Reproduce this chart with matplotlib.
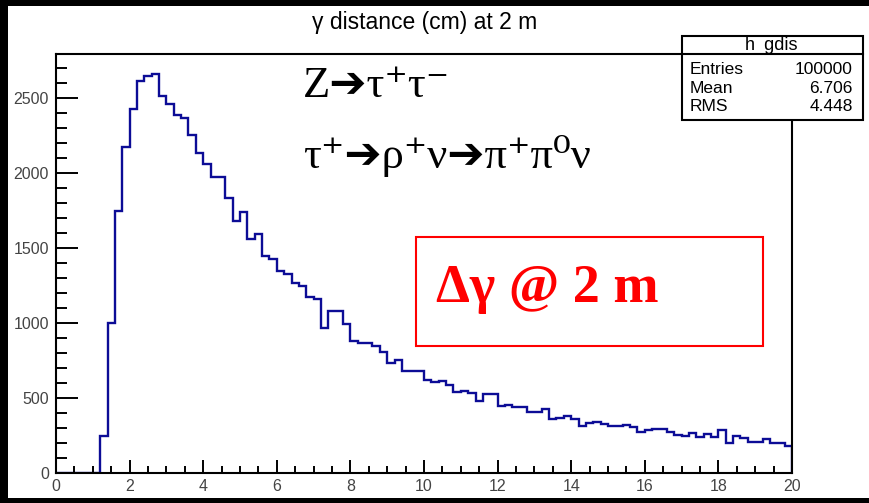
import numpy as np
import matplotlib
matplotlib.use("Agg")
import matplotlib.pyplot as plt
from matplotlib.patches import Rectangle
from matplotlib.lines import Line2D
from matplotlib.ticker import MultipleLocator

# h_gdis: photon distance at 2 m, 100 bins of 0.2 cm from 0 to 20
bin_lo, bin_hi, n_bins = 0.0, 20.0, 100
counts = [
    0, 0, 0, 0, 0, 0,
    250, 1000, 1748, 2173, 2427, 2617, 2645, 2663, 2516, 2461,
    2389, 2367, 2256, 2133, 2060, 1977, 1977, 1833, 1681, 1739,
    1559, 1592, 1447, 1427, 1350, 1327, 1269, 1247, 1171, 1158,
    964, 1082, 1082, 991, 882, 864, 864, 849, 808, 735,
    753, 679, 679, 679, 620, 608, 615, 586, 541, 546,
    534, 481, 526, 526, 446, 452, 441, 441, 408, 408,
    426, 359, 370, 379, 360, 314, 332, 343, 327, 314,
    314, 321, 308, 273, 288, 296, 296, 274, 255, 248,
    265, 240, 263, 240, 284, 203, 250, 232, 210, 210,
    228, 202, 202, 180,
]
stats_names = ["Entries", "Mean", "RMS"]
stats_vals = ["100000", "6.706", "4.448"]

W, H = 869, 503
fig = plt.figure(figsize=(W / 100, H / 100), dpi=100, facecolor="black")


def fx(x):
    return x / W


def fy(y):
    return 1 - y / H


# white page inside the black border
fig.patches.append(Rectangle((fx(8), fy(498)), 1 - fx(8), (498 - 6) / H,
                             transform=fig.transFigure, facecolor="white",
                             edgecolor="none", zorder=-10))

ax = fig.add_axes([fx(56), fy(473), (792 - 56) / W, (473 - 54) / H])
ax.set_facecolor("white")
edges = np.linspace(bin_lo, bin_hi, n_bins + 1)
ax.stairs(counts, edges, color="#0c0c96", linewidth=1.7)
ax.set_xlim(0, 20)
ax.set_ylim(0, 2795)
ax.xaxis.set_major_locator(MultipleLocator(2))
ax.xaxis.set_minor_locator(MultipleLocator(0.5))
ax.yaxis.set_major_locator(MultipleLocator(500))
ax.yaxis.set_minor_locator(MultipleLocator(100))
for s in ax.spines.values():
    s.set_linewidth(1.5)
ax.tick_params(axis="y", which="major", direction="in", length=15.5, width=1.4,
               labelsize=11.5, labelcolor="#444444", pad=5)
ax.tick_params(axis="y", which="minor", direction="in", length=8, width=1.4)
ax.tick_params(axis="x", which="major", direction="in", length=9.5, width=1.4,
               labelsize=11.5, labelcolor="#444444", pad=4)
ax.tick_params(axis="x", which="minor", direction="in", length=4.8, width=1.4)
for lab in ax.get_xticklabels() + ax.get_yticklabels():
    lab.set_family("Liberation Sans")

fig.text(fx(425), fy(22), "\u03b3 distance (cm) at 2 m", ha="center", va="center",
         fontsize=16.5, family="Liberation Sans")

# stats box
fig.patches.append(Rectangle((fx(682), fy(120)), (863 - 682) / W, (120 - 36) / H,
                             transform=fig.transFigure, facecolor="white",
                             edgecolor="black", linewidth=1.5, zorder=5))
fig.lines.append(Line2D([fx(682), fx(863)], [fy(54), fy(54)], transform=fig.transFigure,
                        color="black", linewidth=1.5, zorder=6))
fig.text(fx(772), fy(45), "h_gdis", ha="center", va="center", fontsize=13,
         family="Liberation Sans", zorder=7)
for i, (n, v) in enumerate(zip(stats_names, stats_vals)):
    yy = 70 + i * 18.5
    fig.text(fx(690), fy(yy), n, ha="left", va="center", fontsize=12.5,
             family="Liberation Sans", zorder=7)
    fig.text(fx(853), fy(yy), v, ha="right", va="center", fontsize=12.5,
             family="Liberation Sans", zorder=7)

serif = ["Liberation Serif", "DejaVu Serif", "DejaVu Sans"]
fig.text(fx(303), fy(97), "Z\u2794\u03c4\u207a\u03c4\u207b", ha="left", va="baseline",
         fontsize=32, family=serif, zorder=7)
fig.text(fx(303), fy(168), "\u03c4\u207a\u2794\u03c1\u207a\u03bd\u2794\u03c0\u207a\u03c0\u2070\u03bd",
         ha="left", va="baseline", fontsize=32, family=serif, zorder=7)

# red label box
fig.patches.append(Rectangle((fx(416), fy(346)), (763 - 416) / W, (346 - 237) / H,
                             transform=fig.transFigure, facecolor="white",
                             edgecolor="red", linewidth=1.5, zorder=5))
fig.text(fx(436), fy(302), "\u0394\u03b3 @ 2 m", ha="left", va="baseline", fontsize=39,
         family="Liberation Serif", fontweight="bold", color="red", zorder=7)

fig.savefig("out.png", dpi=100, facecolor=fig.get_facecolor())
